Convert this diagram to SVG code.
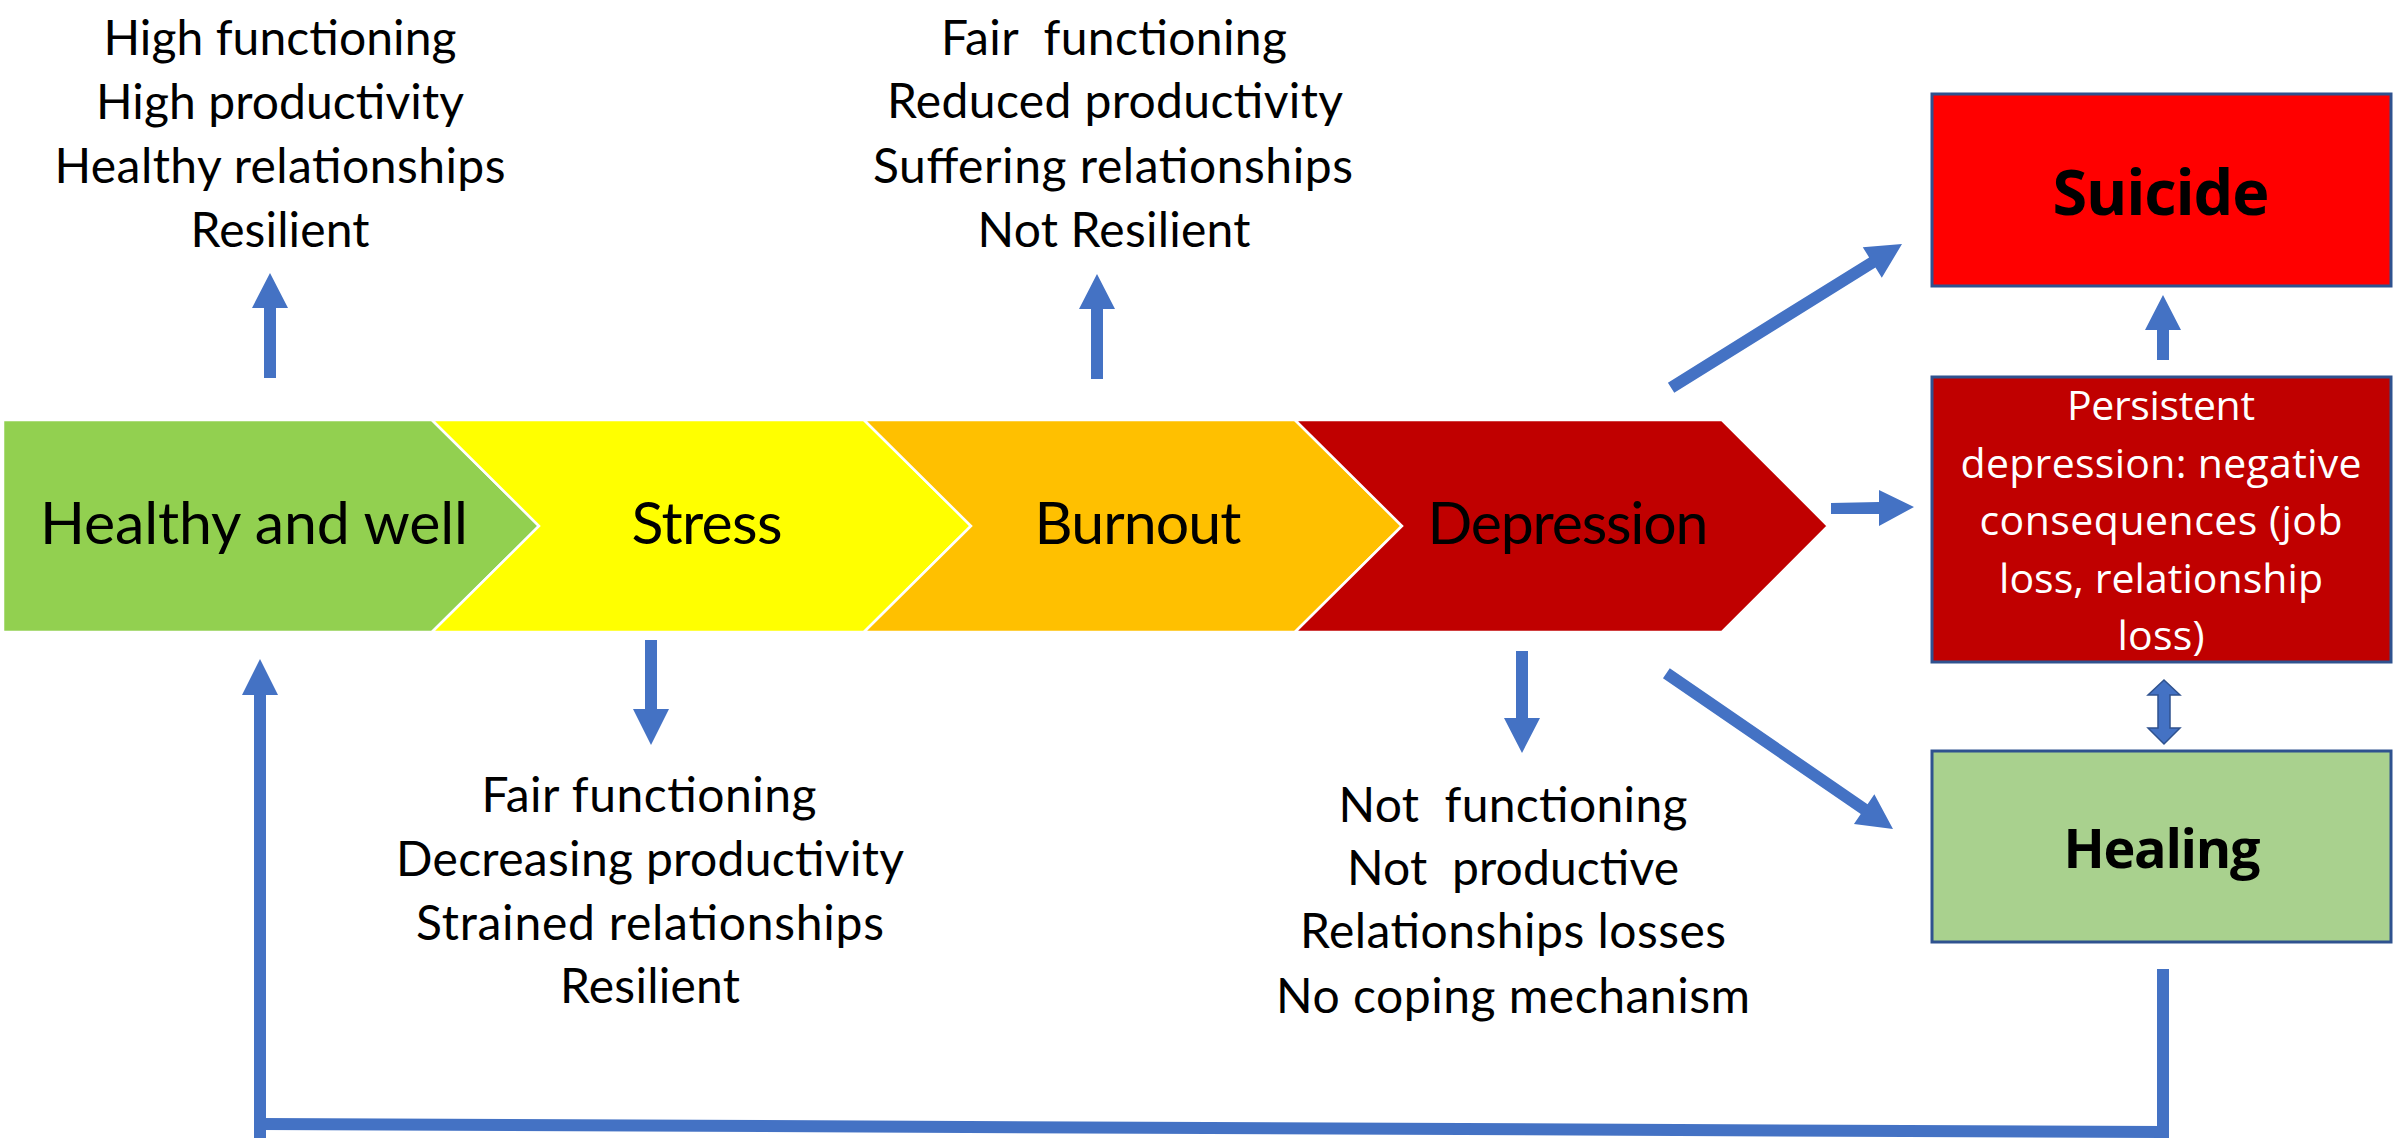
<svg xmlns="http://www.w3.org/2000/svg" width="2407" height="1138" viewBox="0 0 2407 1138">
  <style>
    .stage { stroke: #ffffff; stroke-width: 2.5; stroke-linejoin: miter; }
    .stage-text { font-family: Lato, "Liberation Sans", sans-serif; font-size: 59px; fill: #000000; text-anchor: middle; }
    .note { font-family: Lato, "Liberation Sans", sans-serif; font-size: 48px; fill: #000000; text-anchor: middle; }
    .box { stroke: #2F528F; stroke-width: 3; }
    .box-title { font-family: "Open Sans", "Liberation Sans", sans-serif; font-weight: bold; fill: #000000; text-anchor: middle; }
    .box-text { font-family: "Open Sans", "Liberation Sans", sans-serif; font-size: 41px; fill: #ffffff; text-anchor: middle; }
    .arrow { fill: #4472C4; }
    .loop { fill: none; stroke: #4472C4; stroke-width: 12; stroke-linecap: butt; stroke-linejoin: miter; }
  </style>

  <!-- Stage chevrons -->
  <g id="stage-healthy">
    <polygon class="stage" fill="#92D050" points="3,420 432,420 539,526 432,632 3,632"/>
    <text class="stage-text" x="254" y="544" textLength="428">Healthy and well</text>
  </g>
  <g id="stage-stress">
    <polygon class="stage" fill="#FFFF00" points="432,420 864,420 971,526 864,632 432,632 539,526"/>
    <text class="stage-text" x="707" y="544" textLength="151">Stress</text>
  </g>
  <g id="stage-burnout">
    <polygon class="stage" fill="#FFC000" points="864,420 1295,420 1402,526 1295,632 864,632 971,526"/>
    <text class="stage-text" x="1138" y="544" textLength="207">Burnout</text>
  </g>
  <g id="stage-depression">
    <polygon class="stage" fill="#C00000" points="1295,420 1722,420 1828,526 1722,632 1295,632 1402,526"/>
    <text class="stage-text" x="1568" y="544" textLength="281">Depression</text>
  </g>

  <!-- Outcome boxes -->
  <g id="box-suicide">
    <rect class="box" fill="#FF0000" x="1932" y="94" width="459" height="192"/>
    <text class="box-title" x="2161" y="215" font-size="63" textLength="217">Suicide</text>
  </g>
  <g id="box-persistent">
    <rect class="box" fill="#C00000" x="1932" y="377" width="459" height="285"/>
    <text class="box-text" x="2161" y="420" textLength="188">Persistent</text>
    <text class="box-text" x="2161" y="478" textLength="401">depression: negative</text>
    <text class="box-text" x="2161" y="535" textLength="363">consequences (job</text>
    <text class="box-text" x="2161" y="593" textLength="324">loss, relationship</text>
    <text class="box-text" x="2161" y="650" textLength="87">loss)</text>
  </g>
  <g id="box-healing">
    <rect class="box" fill="#A9D18E" x="1932" y="751" width="459" height="191"/>
    <text class="box-title" x="2162" y="868" font-size="54" textLength="197">Healing</text>
  </g>

  <!-- Stage descriptions -->
  <g id="notes-healthy">
    <text class="note" x="280" y="55" textLength="353">High functioning</text>
    <text class="note" x="280" y="119" textLength="368">High productivity</text>
    <text class="note" x="280" y="183" textLength="451">Healthy relationships</text>
    <text class="note" x="280" y="247" textLength="179">Resilient</text>
  </g>
  <g id="notes-burnout">
    <text class="note" x="1114" y="55" textLength="346">Fair&#160; functioning</text>
    <text class="note" x="1115" y="118" textLength="456">Reduced productivity</text>
    <text class="note" x="1113" y="183" textLength="480">Suffering relationships</text>
    <text class="note" x="1114" y="247" textLength="273">Not Resilient</text>
  </g>
  <g id="notes-stress">
    <text class="note" x="649" y="812" textLength="335">Fair functioning</text>
    <text class="note" x="650" y="876" textLength="508">Decreasing productivity</text>
    <text class="note" x="650" y="940" textLength="468">Strained relationships</text>
    <text class="note" x="650" y="1003" textLength="180">Resilient</text>
  </g>
  <g id="notes-depression">
    <text class="note" x="1513" y="822" textLength="349">Not&#160; functioning</text>
    <text class="note" x="1513" y="885" textLength="332">Not&#160; productive</text>
    <text class="note" x="1513" y="948" textLength="426">Relationships losses</text>
    <text class="note" x="1513" y="1013" textLength="474">No coping mechanism</text>
  </g>

  <!-- Connectors -->
  <g id="connectors">
    <!-- stage to description -->
    <polygon class="arrow" points="270,273 288,308 276,308 276,378 264,378 264,308 252,308"/>
    <polygon class="arrow" points="1097,274 1115,309 1103,309 1103,379 1091,379 1091,309 1079,309"/>
    <polygon class="arrow" points="651,745 669,709 657,709 657,640 645,640 645,709 633,709"/>
    <polygon class="arrow" points="1522,753 1540,718 1528,718 1528,651 1516,651 1516,718 1504,718"/>

    <!-- depression to outcomes -->
    <polygon class="arrow" transform="translate(1902,244) rotate(-31.9)" points="0,0 -35,-18 -35,-6 -272,-6 -272,6 -35,6 -35,18"/>
    <polygon class="arrow" points="1914,507 1879,490 1879,502 1831,503 1831,514 1879,514 1879,526"/>
    <polygon class="arrow" transform="translate(1893,829) rotate(34.5)" points="0,0 -35,-18 -35,-6 -275,-6 -275,6 -35,6 -35,18"/>

    <!-- between outcome boxes -->
    <polygon class="arrow" points="2163,295 2181,330 2169,330 2169,360 2157,360 2157,330 2145,330"/>
    <polygon class="arrow" stroke="#2F528F" stroke-width="1.5" points="2164,680 2180,695 2170,695 2170,728 2180,728 2164,744 2148,728 2158,728 2158,695 2148,695"/>

    <!-- healing back to healthy -->
    <polyline class="loop" points="2163,969 2163,1132 260,1124"/>
    <line class="loop" x1="2163" y1="1132" x2="2163" y2="1136"/>
    <line class="loop" x1="260" y1="1138" x2="260" y2="693"/>
    <polygon class="arrow" points="260,659 278,695 242,695"/>
  </g>
</svg>
